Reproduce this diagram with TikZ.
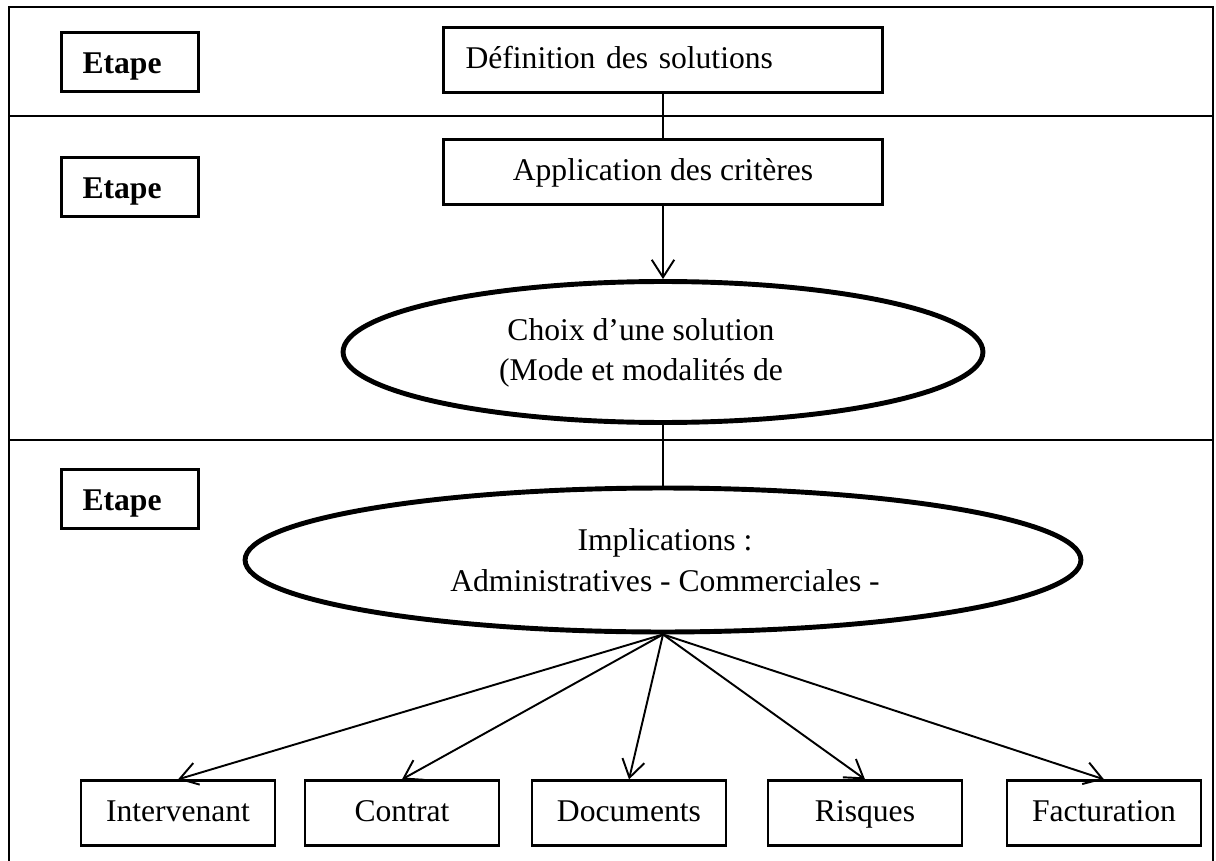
\documentclass[tikz,border=0pt]{standalone}
\usepackage{fontspec}
\setmainfont{Liberation Serif}
\usepackage{tikz}
\usetikzlibrary{arrows.meta,shapes.geometric}

\begin{document}
\begin{tikzpicture}[
  x=0.02cm, y=-0.02cm,
  every node/.style={font=\fontsize{18}{23}\selectfont},
  etape/.style={
    draw, line width=1.3pt, font=\fontsize{18}{23}\selectfont\bfseries,
    align=left, text width=1.9cm, inner xsep=0.42cm, inner ysep=0pt,
    text height=0.6cm, text depth=0.14cm, minimum height=1.18cm
  },
  grandbox/.style={
    draw, line width=1.3pt, inner ysep=0pt,
    text height=0.5cm, text depth=0.16cm,
    minimum width=8.78cm, minimum height=1.3cm
  },
  boite/.style={
    draw, line width=1.3pt, inner ysep=0pt,
    text height=0.5cm, text depth=0.16cm,
    minimum width=3.88cm, minimum height=1.3cm
  },
  bulle/.style={ellipse, draw, line width=2.8pt},
  texte/.style={align=center, inner sep=0pt},
  fleche/.style={-{Straight Barb[length=3.5mm,width=4.5mm]}, line width=1.1pt}
]
  \useasboundingbox (0,0) rectangle (1216,861);
  % cadre et separations
  \draw[line width=1.5pt] (9,861) -- (9,7) -- (1213,7) -- (1213,861);
  \draw[line width=1.5pt] (9,116) -- (1213,116);
  \draw[line width=1.5pt] (9,440) -- (1213,440);

  \foreach \y/\nom in {62/e1,187/e2,499/e3} {
    \node[etape] (\nom) at (130,\y) {Etape};
  }

  \node[grandbox, align=left, text width=7.9cm, inner xsep=0.44cm] (def) at (663,60) {D\'efinition des solutions};
  \node[grandbox] (app) at (663,172) {Application des crit\`eres};

  \node[bulle, minimum width=12.8cm, minimum height=2.82cm] (choix) at (663,352) {};
  \node[texte] (choixtxt) at (641,353) {Choix d’une solution\\(Mode et modalit\'es de};
  \node[bulle, minimum width=16.72cm, minimum height=2.88cm] (impl) at (663,560) {};
  \node[texte] (impltxt) at (665,560) {Implications :\\Administratives - Commerciales -};

  \draw[line width=1.1pt] (def.south) -- (app.north);
  \draw[fleche] (app.south) -- (choix.north);
  \draw[line width=1.1pt] (choix.south) -- (impl.north);

  \foreach \x/\nom/\txt in {178/inter/Intervenant, 402/contrat/Contrat,
      629/docs/Documents, 865/risques/Risques, 1104/fact/Facturation} {
    \node[boite] (\nom) at (\x,813) {\txt};
    \draw[fleche] (impl.south) -- (\nom.north);
  }
\end{tikzpicture}
\end{document}
